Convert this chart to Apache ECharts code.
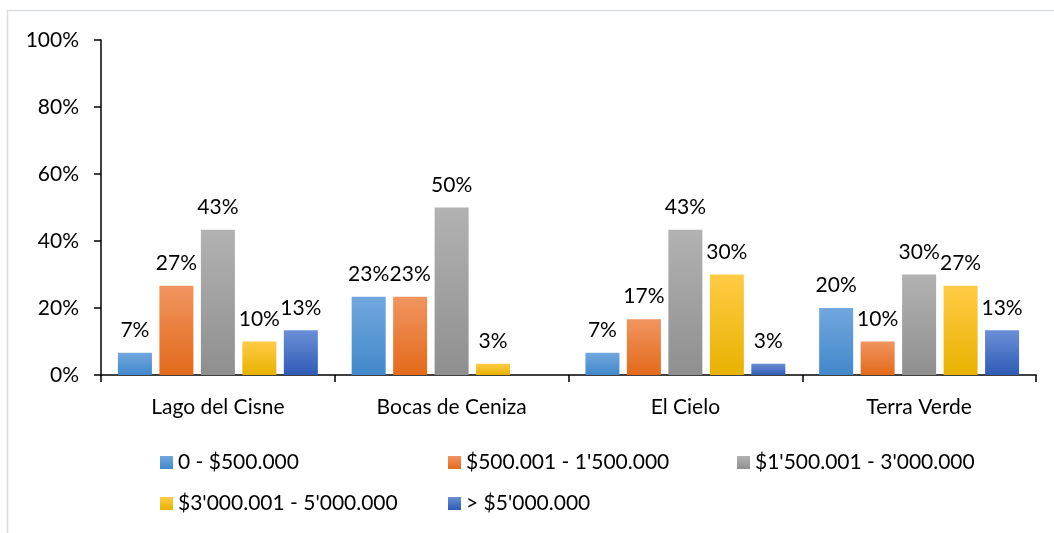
<!DOCTYPE html>
<html><head><meta charset="utf-8">
<script src="https://cdn.jsdelivr.net/npm/echarts@6/dist/echarts.min.js"></script>
<style>html,body{margin:0;padding:0;background:#fff}#c{width:1054px;height:533px}</style>
</head><body><div id="c"></div>
<script>
const categories = ['Lago del Cisne', 'Bocas de Ceniza', 'El Cielo', 'Terra Verde'];
const seriesNames = ['0 - $500.000', "$500.001 - 1'500.000", "$1'500.001 - 3'000.000", "$3'000.001 - 5'000.000", "> $5'000.000"];
const s1 = [6.67, 23.33, 6.67, 20];
const s2 = [26.67, 23.33, 16.67, 10];
const s3 = [43.33, 50, 43.33, 30];
const s4 = [10, 3.33, 30, 26.67];
const s5 = [13.33, 0, 3.33, 13.33];
const yTicks = [0, 20, 40, 60, 80, 100];

const values = [s1, s2, s3, s4, s5];
const gradients = [
  ['#72a7de', '#4288cb'],
  ['#f19460', '#e36a1a'],
  ['#b2b2b2', '#8f8f8f'],
  ['#ffcb45', '#e8b200'],
  ['#6b8fd6', '#2e5bb6']
];
const font = 'Lato, "Open Sans", sans-serif';
const fs = 21;
function grad(c) {
  return new echarts.graphic.LinearGradient(0, 0, 0, 1, [{offset: 0, color: c[0]}, {offset: 1, color: c[1]}]);
}
const legendPos = [[155, 447], [443, 447], [732, 447], [155, 488], [443, 488]];
const chart = echarts.init(document.getElementById('c'));
chart.setOption({
  animation: false,
  graphic: [{type: 'rect', shape: {x: 7.5, y: 10.5, width: 1100, height: 600}, style: {fill: 'none', stroke: '#d9dde3', lineWidth: 1.5}, silent: true}],
  legend: seriesNames.map((n, i) => ({
    data: [n], left: legendPos[i][0], top: legendPos[i][1], itemWidth: 13, itemHeight: 13, itemGap: 0,
    icon: 'rect', textStyle: {fontFamily: font, fontSize: fs, color: '#000'}
  })),
  grid: {left: 101, right: 18, top: 40, bottom: 158},
  xAxis: {
    type: 'category', data: categories,
    axisLine: {lineStyle: {color: '#000', width: 1.5}},
    axisTick: {show: true, length: 7, lineStyle: {color: '#000', width: 1.5}},
    axisLabel: {fontFamily: font, fontSize: fs, color: '#000', margin: 22}
  },
  yAxis: {
    type: 'value', min: 0, max: 100, interval: 20,
    axisLine: {show: true, lineStyle: {color: '#000', width: 1.5}},
    axisTick: {show: true, length: 7, lineStyle: {color: '#000', width: 1.5}},
    splitLine: {show: false},
    axisLabel: {fontFamily: font, fontSize: fs, color: '#000', margin: 22,
      formatter: v => yTicks.includes(v) ? v + '%' : ''}
  },
  series: values.map((d, i) => ({
    name: seriesNames[i], type: 'bar', data: d, barWidth: 34, barGap: '22%',
    itemStyle: {color: grad(gradients[i])},
    label: {show: true, position: 'top', distance: 12, fontFamily: font, fontSize: fs, color: '#000',
      formatter: p => p.value > 0 ? Math.round(p.value) + '%' : ''}
  }))
});
</script></body></html>
